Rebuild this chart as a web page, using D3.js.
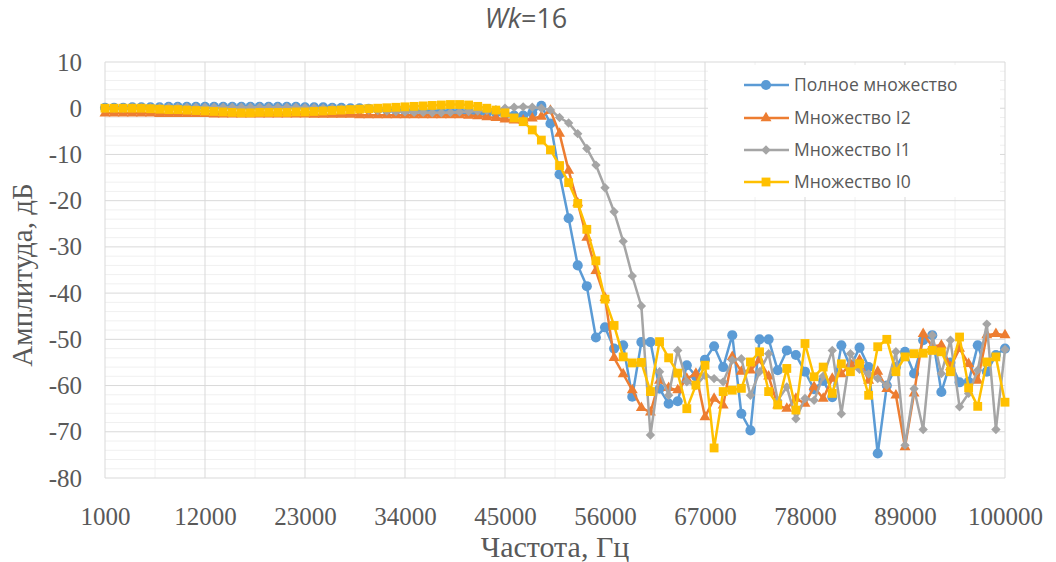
<!DOCTYPE html>
<html>
<head>
<meta charset="utf-8">
<script src="https://cdn.jsdelivr.net/npm/d3@7"></script>
<style>
    body { margin: 0; background: #fff; }
    svg { display: block; }
</style>
</head>
<body>
<div id="chart"></div>
<script>
// frequency categories, Hz
const freqs = [
    1000, 2000, 3000, 4000, 5000, 6000, 7000, 8000, 9000, 10000,
    11000, 12000, 13000, 14000, 15000, 16000, 17000, 18000, 19000, 20000,
    21000, 22000, 23000, 24000, 25000, 26000, 27000, 28000, 29000, 30000,
    31000, 32000, 33000, 34000, 35000, 36000, 37000, 38000, 39000, 40000,
    41000, 42000, 43000, 44000, 45000, 46000, 47000, 48000, 49000, 50000,
    51000, 52000, 53000, 54000, 55000, 56000, 57000, 58000, 59000, 60000,
    61000, 62000, 63000, 64000, 65000, 66000, 67000, 68000, 69000, 70000,
    71000, 72000, 73000, 74000, 75000, 76000, 77000, 78000, 79000, 80000,
    81000, 82000, 83000, 84000, 85000, 86000, 87000, 88000, 89000, 90000,
    91000, 92000, 93000, 94000, 95000, 96000, 97000, 98000, 99000, 100000
];

// Полное множество
const fullSet = [
    0.1, 0.1, 0.1, 0.2, 0.2, 0.2, 0.2, 0.3, 0.3, 0.3,
    0.3, 0.3, 0.3, 0.3, 0.3, 0.3, 0.3, 0.3, 0.3, 0.3,
    0.3, 0.3, 0.2, 0.2, 0.2, 0.1, 0.1, 0.0, 0.0, -0.1,
    -0.2, -0.3, -0.4, -0.5, -0.6, -0.7, -0.7, -0.8, -0.8, -0.8,
    -0.8, -0.9, -1.0, -1.0, -1.3, -1.6, -1.6, -1.0, 0.5, -3.3,
    -14.3, -23.8, -34.0, -38.5, -49.6, -47.4, -52.0, -51.3, -62.4, -50.6,
    -50.6, -60.7, -63.9, -63.4, -55.6, -58.0, -54.4, -51.5, -56.0, -49.1,
    -66.1, -69.7, -50.0, -50.0, -56.7, -52.4, -53.4, -57.0, -60.8, -59.0,
    -62.5, -51.3, -56.0, -51.8, -56.0, -74.7, -60.0, -56.0, -52.7, -57.4,
    -50.2, -49.1, -61.4, -55.0, -59.3, -59.2, -51.3, -57.0, -53.4, -52.0
];

// Множество I2
const setI2 = [
    -1.1, -1.1, -1.1, -1.1, -1.1, -1.1, -1.2, -1.2, -1.2, -1.2,
    -1.2, -1.2, -1.3, -1.3, -1.3, -1.3, -1.3, -1.3, -1.3, -1.3,
    -1.3, -1.3, -1.3, -1.4, -1.4, -1.4, -1.4, -1.4, -1.5, -1.5,
    -1.5, -1.5, -1.5, -1.5, -1.5, -1.5, -1.5, -1.5, -1.5, -1.5,
    -1.6, -1.7, -1.9, -2.1, -2.4, -2.6, -2.6, -2.2, -1.8, -0.5,
    -5.5, -13.5, -20.5, -28.0, -35.2, -41.0, -54.0, -57.5, -61.0, -64.8,
    -65.8, -58.9, -60.5, -61.0, -58.5, -57.4, -66.8, -62.8, -64.3, -53.8,
    -57.0, -56.7, -54.5, -58.0, -64.3, -65.0, -62.8, -63.9, -60.3, -62.8,
    -58.5, -57.5, -55.3, -54.5, -58.9, -57.0, -60.7, -62.1, -73.3, -61.7,
    -48.8, -51.5, -51.3, -56.0, -52.0, -55.3, -58.9, -49.1, -48.8, -49.1
];

// Множество I1
const setI1 = [
    0.0, 0.0, 0.0, 0.1, 0.1, 0.1, 0.1, 0.2, 0.2, 0.2,
    0.2, 0.2, 0.2, 0.2, 0.2, 0.2, 0.2, 0.2, 0.2, 0.2,
    0.2, 0.2, 0.1, 0.1, 0.0, 0.0, -0.1, -0.2, -0.3, -0.4,
    -0.5, -0.6, -0.7, -0.8, -0.9, -0.9, -1.0, -1.0, -0.9, -0.8,
    -0.7, -0.6, -0.5, -0.3, 0.0, 0.2, 0.3, 0.2, 0.0, -0.4,
    -2.0, -3.2, -5.5, -8.7, -12.3, -17.2, -22.4, -28.8, -36.3, -42.8,
    -70.7, -57.0, -62.1, -52.4, -59.2, -60.0, -57.8, -58.5, -59.2, -54.5,
    -54.2, -62.1, -57.0, -53.1, -63.2, -60.3, -67.2, -62.8, -63.2, -58.0,
    -52.4, -66.1, -53.1, -56.5, -57.5, -58.5, -60.0, -52.7, -72.9, -60.7,
    -69.5, -49.1, -57.4, -50.2, -64.6, -61.7, -56.7, -46.7, -69.5, -52.2
];

// Множество I0
const setI0 = [
    0.0, 0.0, 0.0, 0.0, 0.0, -0.1, -0.2, -0.3, -0.3, -0.4,
    -0.5, -0.6, -0.7, -0.8, -0.9, -1.0, -1.0, -0.9, -0.9, -0.9,
    -0.9, -0.8, -0.8, -0.7, -0.6, -0.5, -0.4, -0.3, -0.2, -0.1,
    0.0, 0.1, 0.2, 0.3, 0.4, 0.5, 0.6, 0.7, 0.8, 0.8,
    0.7, 0.4, 0.0, -0.4, -1.0, -2.1, -2.9, -4.7, -6.9, -9.0,
    -12.4, -16.1, -20.6, -26.2, -33.0, -41.3, -47.0, -53.8, -55.1, -55.0,
    -61.3, -50.5, -54.0, -57.3, -65.0, -59.9, -55.6, -73.5, -61.3, -61.0,
    -60.6, -54.9, -52.7, -61.3, -64.2, -56.3, -65.3, -50.9, -58.1, -56.0,
    -61.7, -55.3, -57.0, -55.3, -62.1, -51.6, -50.0, -57.0, -53.8, -53.1,
    -53.0, -52.4, -52.7, -57.0, -49.5, -60.5, -64.5, -54.9, -53.8, -63.6
];

const seriesNames = ['Полное множество', 'Множество I2', 'Множество I1', 'Множество I0'];
const xTicks = [1000, 12000, 23000, 34000, 45000, 56000, 67000, 78000, 89000, 100000];
const yTicks = [10, 0, -10, -20, -30, -40, -50, -60, -70, -80];

var state = {
    width: 1056,
    height: 562,
    left: 105,
    right: 1005,
    top: 62,
    bottom: 478,
    textColor: '#595959',
    colors: ['#5B9BD5', '#ED7D31', '#A5A5A5', '#FFC000'],
    shapes: ['circle', 'triangle', 'diamond', 'square']
};

let x = d3.scaleLinear().domain([1000, 100000]).range([state.left, state.right]);
let y = d3.scaleLinear().domain([-80, 10]).range([state.bottom, state.top]);

let svg = d3.select('#chart')
    .append('svg')
        .attr('width', state.width)
        .attr('height', state.height)
        .style('background', '#fff');

drawGrid();
drawAxes();
drawSeries();
drawLegend();
drawTitles();

function drawGrid(){
    let grid = svg.append('g').attr('class', 'grid');

    // minor lines first
    grid.selectAll('.minorY')
        .data(d3.range(-80, 10.1, 2).filter(v => v % 10 !== 0))
        .enter()
        .append('line')
            .attr('x1', state.left).attr('x2', state.right)
            .attr('y1', d => y(d)).attr('y2', d => y(d))
            .style('stroke', '#F0F0F0')
            .style('stroke-width', 1);

    grid.selectAll('.minorX')
        .data(xTicks.slice(0, -1).map(v => v + 5500))
        .enter()
        .append('line')
            .attr('x1', d => x(d)).attr('x2', d => x(d))
            .attr('y1', state.top).attr('y2', state.bottom)
            .style('stroke', '#F0F0F0')
            .style('stroke-width', 1);

    grid.selectAll('.majorY')
        .data(yTicks)
        .enter()
        .append('line')
            .attr('x1', state.left).attr('x2', state.right)
            .attr('y1', d => y(d)).attr('y2', d => y(d))
            .style('stroke', '#D9D9D9')
            .style('stroke-width', 1);

    grid.selectAll('.majorX')
        .data(xTicks)
        .enter()
        .append('line')
            .attr('x1', d => x(d)).attr('x2', d => x(d))
            .attr('y1', state.top).attr('y2', state.bottom)
            .style('stroke', '#D9D9D9')
            .style('stroke-width', 1);
}

function drawAxes(){
    let xAxis = svg.append('g')
        .attr('transform', 'translate(0,' + (state.bottom + 26) + ')')
        .call(d3.axisBottom(x).tickValues(xTicks).tickSize(0).tickFormat(d => String(d)));

    let yAxis = svg.append('g')
        .attr('transform', 'translate(' + (state.left - 20) + ',0)')
        .call(d3.axisLeft(y).tickValues(yTicks).tickSize(0).tickFormat(d => String(d)));

    [xAxis, yAxis].forEach(function(ax){
        ax.select('.domain').remove();
        ax.selectAll('text')
            .style('font-family', '"Liberation Serif", "Times New Roman", serif')
            .style('font-size', '25px')
            .style('fill', state.textColor);
    });
}

function markerPath(shape){
    switch(shape){
        case 'circle': return d3.symbol().type(d3.symbolCircle).size(80)();
        case 'triangle': return d3.symbol().type(d3.symbolTriangle).size(52)();
        case 'diamond': return d3.symbol().type(d3.symbolSquare).size(44)();
        case 'square': return d3.symbol().type(d3.symbolSquare).size(78)();
        default: return '';
    }
}

function drawSeries(){
    let all = [fullSet, setI2, setI1, setI0];
    let line = d3.line()
        .x((d, i) => x(freqs[i]))
        .y(d => y(d));

    all.forEach(function(values, s){
        let g = svg.append('g').attr('class', 'series');

        g.append('path')
            .datum(values)
            .attr('d', line)
            .style('fill', 'none')
            .style('stroke', state.colors[s])
            .style('stroke-width', 2.5)
            .style('stroke-linejoin', 'round');

        g.selectAll('path.marker')
            .data(values)
            .enter()
            .append('path')
                .attr('class', 'marker')
                .attr('d', markerPath(state.shapes[s]))
                .attr('transform', function(d, i){
                    let rot = state.shapes[s] === 'diamond' ? ' rotate(45)' : '';
                    return 'translate(' + x(freqs[i]) + ',' + y(d) + ')' + rot;
                })
                .style('fill', state.colors[s]);
    });
}

function drawLegend(){
    let lg = svg.append('g').attr('class', 'legend');

    lg.append('rect')
        .attr('x', 708).attr('y', 65)
        .attr('width', 292).attr('height', 132)
        .style('fill', '#fff');

    let rows = [85, 118, 150, 182];

    seriesNames.forEach(function(name, s){
        let item = lg.append('g').attr('transform', 'translate(0,' + rows[s] + ')');

        item.append('line')
            .attr('x1', 744).attr('x2', 789)
            .attr('y1', 0).attr('y2', 0)
            .style('stroke', state.colors[s])
            .style('stroke-width', 2.5);

        item.append('path')
            .attr('d', markerPath(state.shapes[s]))
            .attr('transform', 'translate(766,0)' + (state.shapes[s] === 'diamond' ? ' rotate(45)' : ''))
            .style('fill', state.colors[s]);

        item.append('text')
            .attr('x', 794)
            .attr('y', 0)
            .attr('dy', '0.35em')
            .text(name)
            .style('font-family', '"Open Sans", "Noto Sans", sans-serif')
            .style('font-size', '17.5px')
            .style('fill', state.textColor);
    });
}

function drawTitles(){
    let title = svg.append('text')
        .attr('x', 526)
        .attr('y', 28)
        .attr('text-anchor', 'middle')
        .style('font-family', '"Open Sans", "Noto Sans", sans-serif')
        .style('font-size', '27px')
        .style('fill', state.textColor);
    title.append('tspan').style('font-style', 'italic').text('Wk');
    title.append('tspan').text('=16');

    svg.append('text')
        .attr('x', 555)
        .attr('y', 557)
        .attr('text-anchor', 'middle')
        .text('Частота, Гц')
        .style('font-family', '"Liberation Serif", "Times New Roman", serif')
        .style('font-size', '30px')
        .style('fill', state.textColor);

    svg.append('text')
        .attr('transform', 'translate(32,275) rotate(-90)')
        .attr('text-anchor', 'middle')
        .text('Амплитуда, дБ')
        .style('font-family', '"Liberation Serif", "Times New Roman", serif')
        .style('font-size', '29px')
        .style('fill', state.textColor);
}
</script>
</body>
</html>
